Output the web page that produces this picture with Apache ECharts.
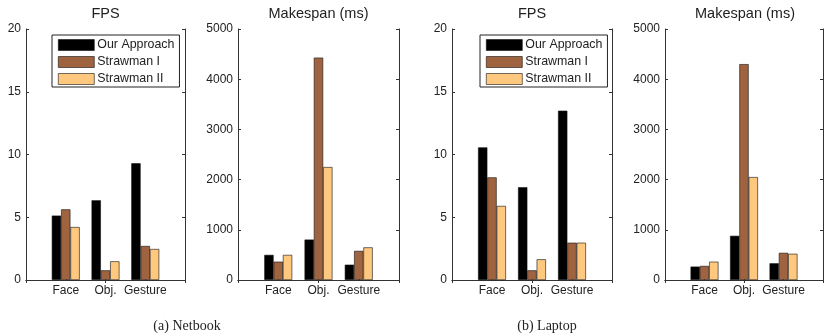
<!DOCTYPE html>
<html>
<head>
<meta charset="utf-8">
<script src="https://cdn.jsdelivr.net/npm/echarts@6/dist/echarts.min.js"></script>
<style>
  html, body { margin: 0; padding: 0; background: #fff; }
  #chart { width: 826px; height: 335px; }
</style>
</head>
<body>
<div id="chart"></div>
<script>
const categories = ['Face', 'Obj.', 'Gesture'];
const seriesNames = ['Our Approach', 'Strawman I', 'Strawman II'];
const panelTitles = ['FPS', 'Makespan (ms)', 'FPS', 'Makespan (ms)'];
const captions = ['(a) Netbook', '(b) Laptop'];
const fpsTicks = [0, 5, 10, 15, 20];
const msTicks = [0, 1000, 2000, 3000, 4000, 5000];

const netbookFpsOur = [5.13, 6.35, 9.3];
const netbookFpsS1 = [5.63, 0.77, 2.71];
const netbookFpsS2 = [4.22, 1.49, 2.47];
const netbookMsOur = [500, 805, 305];
const netbookMsS1 = [365, 4430, 580];
const netbookMsS2 = [500, 2250, 650];
const laptopFpsOur = [10.57, 7.39, 13.49];
const laptopFpsS1 = [8.18, 0.77, 2.97];
const laptopFpsS2 = [5.9, 1.65, 2.97];
const laptopMsOur = [267, 880, 333];
const laptopMsS1 = [280, 4300, 541];
const laptopMsS2 = [365, 2050, 522];

const colors = ['#000000', '#A0633F', '#FFC87F'];
const FONT = 'Liberation Sans, Arial, sans-serif';

const panels = [
  { left: 26, width: 159, ticks: fpsTicks, data: [netbookFpsOur, netbookFpsS1, netbookFpsS2], legend: 52 },
  { left: 238, width: 161, ticks: msTicks, data: [netbookMsOur, netbookMsS1, netbookMsS2] },
  { left: 452, width: 160, ticks: fpsTicks, data: [laptopFpsOur, laptopFpsS1, laptopFpsS2], legend: 480 },
  { left: 665, width: 160, ticks: msTicks, data: [laptopMsOur, laptopMsS1, laptopMsS2] }
];
const TOP = 29, HEIGHT = 251;
const axisCats = [''].concat(categories, ['']);
const lineStyle = { color: '#333', width: 1 };
const tickStyle = { show: true, inside: true, length: 3, lineStyle: { color: '#333', width: 1 } };

const grid = [], xAxis = [], yAxis = [], series = [], legend = [], graphic = [];
panels.forEach((p, i) => {
  grid.push({ left: p.left, top: TOP, width: p.width, height: HEIGHT, containLabel: false });
  xAxis.push({
    type: 'category', gridIndex: i, position: 'bottom', data: axisCats, boundaryGap: false,
    axisLine: { show: true, lineStyle }, axisTick: tickStyle,
    axisLabel: { fontFamily: FONT, fontSize: 12, color: '#222', margin: 5, interval: 0 },
    splitLine: { show: false }
  });
  xAxis.push({
    type: 'category', gridIndex: i, position: 'top', data: axisCats, boundaryGap: false,
    axisLine: { show: true, lineStyle }, axisTick: tickStyle,
    axisLabel: { show: false }, splitLine: { show: false }
  });
  const ymax = p.ticks[p.ticks.length - 1];
  const yint = p.ticks[1] - p.ticks[0];
  yAxis.push({
    type: 'value', gridIndex: i, position: 'left', min: p.ticks[0], max: ymax, interval: yint,
    axisLine: { show: true, lineStyle }, axisTick: tickStyle,
    axisLabel: { fontFamily: FONT, fontSize: 12, color: '#222', margin: 5, formatter: v => String(v) },
    splitLine: { show: false }
  });
  yAxis.push({
    type: 'value', gridIndex: i, position: 'right', min: p.ticks[0], max: ymax, interval: yint,
    axisLine: { show: true, lineStyle }, axisTick: tickStyle,
    axisLabel: { show: false }, splitLine: { show: false }
  });
  p.data.forEach((vals, k) => {
    series.push({
      type: 'bar', name: seriesNames[k], xAxisIndex: 2 * i, yAxisIndex: 2 * i,
      data: vals.map((v, j) => [j + 1, v]),
      barWidth: 9.3, barGap: '0%',
      itemStyle: { color: colors[k], borderColor: '#111', borderWidth: 0.6 },
      emphasis: { disabled: true },
      animation: false
    });
  });
  if (p.legend !== undefined) {
    legend.push({
      orient: 'vertical', left: p.legend, top: 35,
      data: seriesNames.map(n => ({ name: n, icon: 'rect' })),
      itemWidth: 36, itemHeight: 11, itemGap: 5,
      padding: [4, 5, 2, 6],
      borderColor: '#222', borderWidth: 1, backgroundColor: '#fff',
      textStyle: { fontFamily: FONT, fontSize: 12.4, color: '#222', padding: [0, 0, 0, -2] },
      itemStyle: { borderColor: '#111', borderWidth: 0.6 },
      selectedMode: false
    });
  }
  graphic.push({
    type: 'text', x: p.left + p.width / 2, y: 14,
    style: { text: panelTitles[i], fontFamily: FONT, fontSize: 14.5, fill: '#222', textAlign: 'center', textVerticalAlign: 'middle' }
  });
});
graphic.push({
  type: 'text', x: 187, y: 326,
  style: { text: captions[0], fontFamily: 'Liberation Serif, Times New Roman, serif', fontSize: 14, fill: '#222', textAlign: 'center', textVerticalAlign: 'middle' }
});
graphic.push({
  type: 'text', x: 547, y: 326,
  style: { text: captions[1], fontFamily: 'Liberation Serif, Times New Roman, serif', fontSize: 14, fill: '#222', textAlign: 'center', textVerticalAlign: 'middle' }
});

const chart = echarts.init(document.getElementById('chart'), null, { renderer: 'canvas' });
chart.setOption({
  animation: false,
  backgroundColor: '#fff',
  grid, xAxis, yAxis, series, legend, graphic
});
</script>
</body>
</html>
